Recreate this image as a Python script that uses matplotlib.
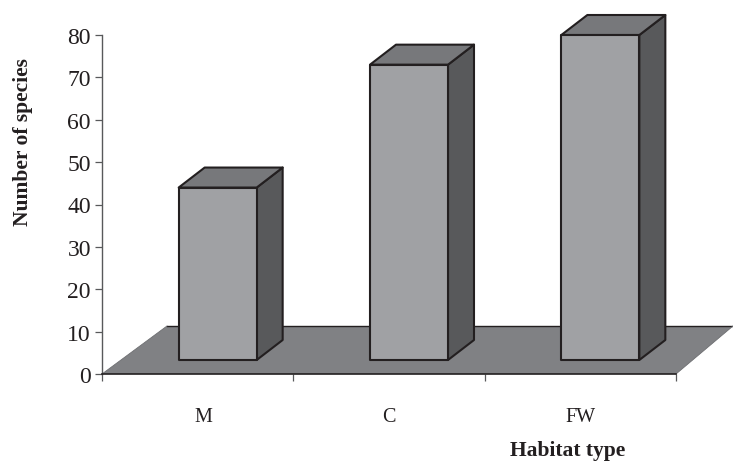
import matplotlib
matplotlib.use("Agg")
import matplotlib.pyplot as plt
from matplotlib.patches import Polygon
import numpy as np

categories = ["M", "C", "FW"]
species = [44, 73, 80]
y_ticks = [0, 10, 20, 30, 40, 50, 60, 70, 80]

W, H = 733, 464
EDGE = "#231f20"
FRONT = "#a0a1a4"
TOP = "#77787b"
SIDE = "#58595b"
FLOOR = "#808184"

plt.rcParams["font.family"] = ["Liberation Serif", "DejaVu Serif"]

fig = plt.figure(figsize=(W / 100, H / 100), dpi=100)
# axes box in pixels: x 102-676, y 36-375
ax = fig.add_axes([102 / W, 1 - 375 / H, 574 / W, 339 / H])
ax.set_xlim(0, 3)
ax.set_ylim(0, 80)
ax.patch.set_visible(False)

# 3D look: pixel sizes converted to data units
px_x = 3 / 574
px_y = 80 / 339
floor_dx = 57 * px_x
floor_dy = 48 * px_y
box_dx = 26 * px_x
box_dy = 20 * px_y
box_w = 78 * px_x
base = 14 * px_y
box_off = 20 * px_x

ax.add_patch(Polygon([(0, 0), (3, 0), (3 + floor_dx, floor_dy), (floor_dx * 65 / 57, floor_dy)],
                     closed=True, fc=FLOOR, ec="none", clip_on=False, zorder=1))
ax.plot([floor_dx * 65 / 57, 3 + floor_dx], [floor_dy, floor_dy], color=EDGE, lw=1.0,
        clip_on=False, zorder=1.5)
ax.plot([0, floor_dx * 65 / 57], [0, floor_dy], color="#6d6e71", lw=0.6, clip_on=False, zorder=1.5)
ax.plot([3, 3 + floor_dx], [0, floor_dy], color="#6d6e71", lw=0.6, clip_on=False, zorder=1.5)

for i, v in enumerate(species):
    x0 = i + 0.5 + box_off - box_w / 2
    x1 = x0 + box_w
    style = dict(closed=True, ec=EDGE, lw=1.5, joinstyle="round", clip_on=False, zorder=3)
    ax.add_patch(Polygon([(x1, base), (x1 + box_dx, base + box_dy), (x1 + box_dx, v + box_dy), (x1, v)],
                         fc=SIDE, **style))
    ax.add_patch(Polygon([(x0, v), (x1, v), (x1 + box_dx, v + box_dy), (x0 + box_dx, v + box_dy)],
                         fc=TOP, **style))
    ax.add_patch(Polygon([(x0, base), (x1, base), (x1, v), (x0, v)], fc=FRONT, **style))

for s in ["top", "right"]:
    ax.spines[s].set_visible(False)
ax.spines["left"].set_color("#58595b")
ax.spines["left"].set_linewidth(1.0)
ax.spines["bottom"].set_color(EDGE)
ax.spines["bottom"].set_linewidth(1.2)

ax.set_yticks(y_ticks)
ax.set_xticks([0, 1, 2, 3])
ax.set_xticklabels([])
ax.tick_params(axis="both", which="major", length=5, width=0.9, color="#58595b")
ax.tick_params(axis="y", labelsize=17, pad=3, labelcolor=EDGE)

ax.set_xticks([0.53, 1.5, 2.5], minor=True)
ax.set_xticklabels(categories, minor=True, fontsize=14.5, color=EDGE)
ax.tick_params(axis="x", which="minor", length=0, pad=24)

fig.text(23 / W, 1 - 142 / H, "Number of species", rotation=90, ha="center", va="center",
         fontsize=15.5, fontweight="bold", color=EDGE)
fig.text(568 / W, 1 - 451 / H, "Habitat type", ha="center", va="center",
         fontsize=15.5, fontweight="bold", color=EDGE)

fig.savefig("out.png", dpi=100)
